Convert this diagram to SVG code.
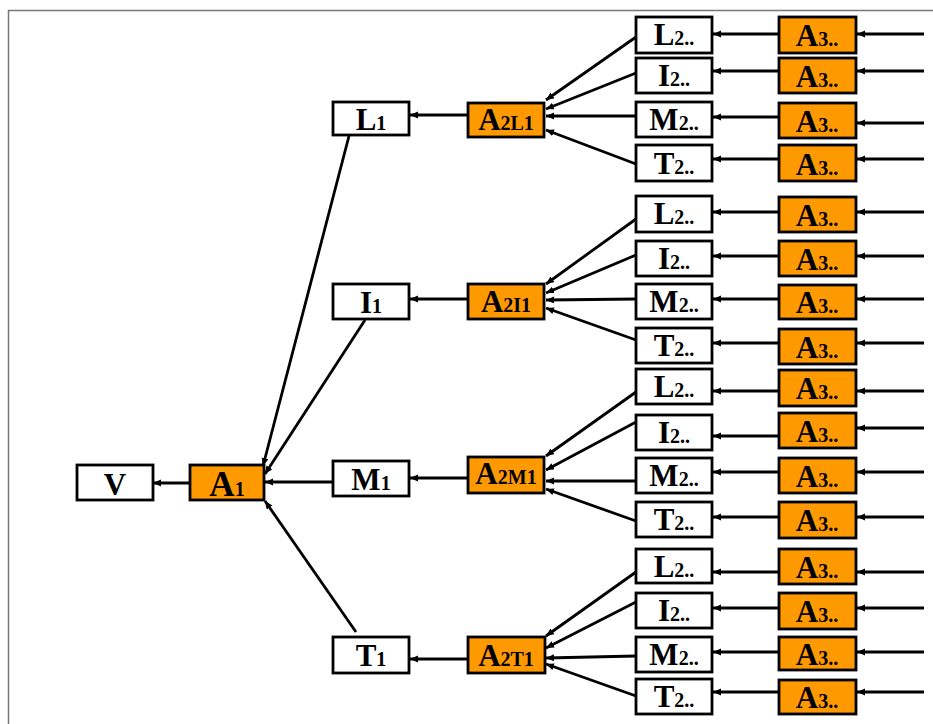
<svg xmlns="http://www.w3.org/2000/svg" width="933" height="724" viewBox="0 0 933 724">
<style>
.w{fill:#fff;stroke:#000;stroke-width:2.8}
.o{fill:#FF9900;stroke:#000;stroke-width:2.8}
text{font-family:"Liberation Serif","Times New Roman",serif;font-weight:bold;text-anchor:middle;fill:#000;font-size:31px}
.s{font-size:20px}
.c line{stroke:#000;stroke-width:2.8;marker-end:url(#ah)}
</style>
<defs>
<marker id="ah" markerUnits="userSpaceOnUse" markerWidth="9" markerHeight="8" refX="8" refY="3.5" orient="auto">
<path d="M0,0 L8,3.5 L0,7 Z" fill="#000"/>
</marker>
</defs>
<rect width="933" height="724" fill="#fff"/>
<path d="M8.5,724 V10.5 H933" fill="none" stroke="#777" stroke-width="1.5"/>

<g class="c" id="connectors">
<line x1="190" y1="483" x2="153" y2="483"/>
<line x1="349" y1="136" x2="263" y2="466"/>
<line x1="365" y1="320" x2="265" y2="474"/>
<line x1="333" y1="482" x2="265" y2="482"/>
<line x1="356" y1="632" x2="265" y2="501"/>
<line x1="468" y1="115" x2="410" y2="115"/>
<line x1="468" y1="299" x2="410" y2="299"/>
<line x1="468" y1="478" x2="410" y2="478"/>
<line x1="468" y1="659" x2="410" y2="659"/>
<line x1="636" y1="37" x2="546" y2="100"/>
<line x1="636" y1="73" x2="546" y2="109"/>
<line x1="636" y1="116" x2="546" y2="116"/>
<line x1="636" y1="164" x2="546" y2="130"/>
<line x1="636" y1="219" x2="546" y2="284"/>
<line x1="636" y1="255" x2="546" y2="293"/>
<line x1="636" y1="299" x2="546" y2="300"/>
<line x1="636" y1="340" x2="546" y2="308"/>
<line x1="636" y1="392" x2="546" y2="456"/>
<line x1="636" y1="422" x2="546" y2="470"/>
<line x1="636" y1="481" x2="546" y2="481"/>
<line x1="636" y1="521" x2="546" y2="489"/>
<line x1="636" y1="572" x2="546" y2="636"/>
<line x1="636" y1="602" x2="546" y2="648"/>
<line x1="636" y1="656" x2="546" y2="658"/>
<line x1="636" y1="696" x2="546" y2="664"/>
<line x1="779" y1="34" x2="713" y2="34"/>
<line x1="779" y1="71" x2="713" y2="71"/>
<line x1="779" y1="117" x2="713" y2="117"/>
<line x1="779" y1="159" x2="713" y2="159"/>
<line x1="779" y1="212" x2="713" y2="212"/>
<line x1="779" y1="256" x2="713" y2="256"/>
<line x1="779" y1="299" x2="713" y2="299"/>
<line x1="779" y1="343" x2="713" y2="343"/>
<line x1="779" y1="391" x2="713" y2="391"/>
<line x1="779" y1="436" x2="713" y2="436"/>
<line x1="779" y1="472" x2="713" y2="472"/>
<line x1="779" y1="517" x2="713" y2="517"/>
<line x1="779" y1="572" x2="713" y2="572"/>
<line x1="779" y1="608" x2="713" y2="608"/>
<line x1="779" y1="652" x2="713" y2="652"/>
<line x1="779" y1="692" x2="713" y2="692"/>
<line x1="924" y1="34" x2="857" y2="34"/>
<line x1="924" y1="71" x2="857" y2="71"/>
<line x1="924" y1="123" x2="857" y2="123"/>
<line x1="924" y1="159" x2="857" y2="159"/>
<line x1="924" y1="212" x2="857" y2="212"/>
<line x1="924" y1="256" x2="857" y2="256"/>
<line x1="924" y1="299" x2="857" y2="299"/>
<line x1="924" y1="343" x2="857" y2="343"/>
<line x1="924" y1="391" x2="857" y2="391"/>
<line x1="924" y1="428" x2="857" y2="428"/>
<line x1="924" y1="472" x2="857" y2="472"/>
<line x1="924" y1="517" x2="857" y2="517"/>
<line x1="924" y1="572" x2="857" y2="572"/>
<line x1="924" y1="608" x2="857" y2="608"/>
<line x1="924" y1="652" x2="857" y2="652"/>
<line x1="924" y1="692" x2="857" y2="692"/>
</g>

<g id="V"><rect class="w" x="77" y="465" width="76" height="35"/><text x="115" y="495">V</text></g>
<g id="A1"><rect class="o" x="190" y="465" width="74" height="35"/><text x="227" y="496"><tspan style="font-size:35px">A</tspan><tspan class="s">1</tspan></text></g>

<g id="L1"><rect class="w" x="333" y="102" width="76" height="33"/><text x="371" y="130">L<tspan class="s">1</tspan></text></g>
<g id="I1"><rect class="w" x="333" y="284" width="76" height="35"/><text x="371" y="313">I<tspan class="s">1</tspan></text></g>
<g id="M1"><rect class="w" x="333" y="461" width="76" height="35"/><text x="371" y="490">M<tspan class="s">1</tspan></text></g>
<g id="T1"><rect class="w" x="333" y="637" width="76" height="36"/><text x="371" y="666">T<tspan class="s">1</tspan></text></g>

<g id="A2L1"><rect class="o" x="468" y="103" width="76" height="34"/><text x="506" y="130">A<tspan class="s">2L1</tspan></text></g>
<g id="A2I1"><rect class="o" x="468" y="284" width="76" height="35"/><text x="506" y="312">A<tspan class="s">2I1</tspan></text></g>
<g id="A2M1"><rect class="o" x="468" y="457" width="76" height="36"/><text x="506" y="484">A<tspan class="s">2M1</tspan></text></g>
<g id="A2T1"><rect class="o" x="468" y="637" width="77" height="36"/><text x="506" y="666">A<tspan class="s">2T1</tspan></text></g>

<g id="L2a"><rect class="w" x="636" y="17" width="76" height="36"/><text x="674" y="45">L<tspan class="s">2..</tspan></text></g>
<g id="I2a"><rect class="w" x="636" y="58" width="76" height="35"/><text x="674" y="86">I<tspan class="s">2..</tspan></text></g>
<g id="M2a"><rect class="w" x="636" y="102" width="76" height="35"/><text x="674" y="130">M<tspan class="s">2..</tspan></text></g>
<g id="T2a"><rect class="w" x="636" y="145" width="76" height="36"/><text x="674" y="174">T<tspan class="s">2..</tspan></text></g>
<g id="A3a1"><rect class="o" x="779" y="17" width="77" height="36"/><text x="817" y="46">A<tspan class="s">3..</tspan></text></g>
<g id="A3a2"><rect class="o" x="779" y="58" width="77" height="35"/><text x="817" y="87">A<tspan class="s">3..</tspan></text></g>
<g id="A3a3"><rect class="o" x="779" y="103" width="77" height="35"/><text x="817" y="132">A<tspan class="s">3..</tspan></text></g>
<g id="A3a4"><rect class="o" x="779" y="145" width="77" height="36"/><text x="817" y="175">A<tspan class="s">3..</tspan></text></g>

<g id="L2b"><rect class="w" x="636" y="196" width="76" height="36"/><text x="674" y="224">L<tspan class="s">2..</tspan></text></g>
<g id="I2b"><rect class="w" x="636" y="241" width="76" height="35"/><text x="674" y="269">I<tspan class="s">2..</tspan></text></g>
<g id="M2b"><rect class="w" x="636" y="284" width="76" height="35"/><text x="674" y="312">M<tspan class="s">2..</tspan></text></g>
<g id="T2b"><rect class="w" x="636" y="328" width="76" height="35"/><text x="674" y="356">T<tspan class="s">2..</tspan></text></g>
<g id="A3b1"><rect class="o" x="779" y="197" width="77" height="35"/><text x="817" y="226">A<tspan class="s">3..</tspan></text></g>
<g id="A3b2"><rect class="o" x="779" y="241" width="77" height="35"/><text x="817" y="270">A<tspan class="s">3..</tspan></text></g>
<g id="A3b3"><rect class="o" x="779" y="285" width="77" height="34"/><text x="817" y="313">A<tspan class="s">3..</tspan></text></g>
<g id="A3b4"><rect class="o" x="779" y="329" width="77" height="35"/><text x="817" y="358">A<tspan class="s">3..</tspan></text></g>

<g id="L2c"><rect class="w" x="636" y="369" width="76" height="35"/><text x="674" y="397">L<tspan class="s">2..</tspan></text></g>
<g id="I2c"><rect class="w" x="636" y="415" width="76" height="35"/><text x="674" y="443">I<tspan class="s">2..</tspan></text></g>
<g id="M2c"><rect class="w" x="636" y="458" width="76" height="35"/><text x="674" y="486">M<tspan class="s">2..</tspan></text></g>
<g id="T2c"><rect class="w" x="636" y="502" width="76" height="35"/><text x="674" y="530">T<tspan class="s">2..</tspan></text></g>
<g id="A3c1"><rect class="o" x="779" y="370" width="77" height="36"/><text x="817" y="399">A<tspan class="s">3..</tspan></text></g>
<g id="A3c2"><rect class="o" x="779" y="413" width="77" height="35"/><text x="817" y="442">A<tspan class="s">3..</tspan></text></g>
<g id="A3c3"><rect class="o" x="779" y="458" width="77" height="35"/><text x="817" y="487">A<tspan class="s">3..</tspan></text></g>
<g id="A3c4"><rect class="o" x="779" y="502" width="77" height="36"/><text x="817" y="531">A<tspan class="s">3..</tspan></text></g>

<g id="L2d"><rect class="w" x="636" y="549" width="76" height="34"/><text x="674" y="577">L<tspan class="s">2..</tspan></text></g>
<g id="I2d"><rect class="w" x="636" y="593" width="76" height="35"/><text x="674" y="621">I<tspan class="s">2..</tspan></text></g>
<g id="M2d"><rect class="w" x="636" y="637" width="76" height="35"/><text x="674" y="665">M<tspan class="s">2..</tspan></text></g>
<g id="T2d"><rect class="w" x="636" y="679" width="76" height="35"/><text x="674" y="707">T<tspan class="s">2..</tspan></text></g>
<g id="A3d1"><rect class="o" x="779" y="549" width="77" height="35"/><text x="817" y="578">A<tspan class="s">3..</tspan></text></g>
<g id="A3d2"><rect class="o" x="779" y="593" width="77" height="36"/><text x="817" y="622">A<tspan class="s">3..</tspan></text></g>
<g id="A3d3"><rect class="o" x="779" y="637" width="77" height="33"/><text x="817" y="665">A<tspan class="s">3..</tspan></text></g>
<g id="A3d4"><rect class="o" x="779" y="680" width="77" height="34"/><text x="817" y="708">A<tspan class="s">3..</tspan></text></g>
</svg>
